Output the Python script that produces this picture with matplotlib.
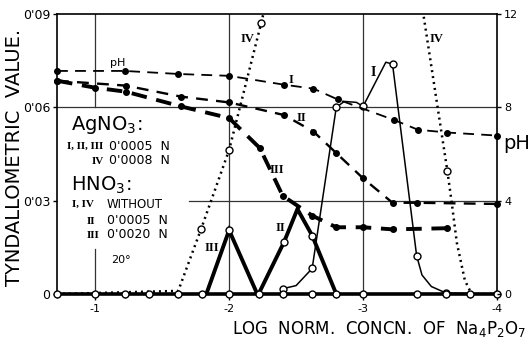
import matplotlib
matplotlib.use("Agg")
import matplotlib.pyplot as plt

plt.rcParams['mathtext.default'] = 'regular'
plt.rcParams['font.family'] = ['DejaVu Sans']

# ---------------- data ----------------
# baseline measurement points (log normal concentration), tyndallometric value 0
base_x = [-0.715, -1.0, -1.22, -1.4, -1.62, -1.8, -2.0, -2.22, -2.4, -2.62,
          -2.8, -3.0, -3.4, -3.62, -3.8, -4.0]
base_y = [0.0] * len(base_x)

# Tyndallometric curves
tyn_I_x = [-2.4, -2.5, -2.62, -2.8, -2.86, -2.95, -3.0, -3.17, -3.22, -3.4,
           -3.44, -3.51, -3.62, -4.0]
tyn_I_y = [0.0017, 0.0027, 0.0082, 0.060, 0.0619, 0.0616, 0.0603, 0.0745,
           0.0739, 0.0123, 0.0061, 0.0024, 0.0003, 0.0]
tyn_I_marks = [0, 2, 3, 6, 8, 9, 12, 13]

tyn_II_x = [-2.22, -2.41, -2.51, -2.62, -2.8]
tyn_II_y = [0.0, 0.0167, 0.0273, 0.0188, 0.0]
tyn_II_marks = [1, 3]

tyn_III_x = [-1.83, -2.0, -2.21]
tyn_III_y = [0.0, 0.0205, 0.0]
tyn_III_marks = [1]

tyn_IV_x = [-0.715, -1.62, -1.79, -2.0, -2.24, -2.3, -3.42, -3.45, -3.63,
            -3.66, -3.70, -3.76, -3.81, -4.0]
tyn_IV_y = [0.0, 0.001, 0.0208, 0.0463, 0.0872, 0.098, 0.098, 0.090, 0.0394,
            0.030, 0.0165, 0.0044, 0.0, 0.0]
tyn_IV_marks = [2, 3, 4, 8]

# pH curves
pH_I_x = [-0.715, -1.22, -1.62, -2.0, -2.41, -2.63, -2.81, -3.23, -3.41, -3.63, -4.0]
pH_I = [9.56, 9.56, 9.43, 9.35, 8.97, 8.80, 8.34, 7.46, 7.04, 6.92, 6.79]

pH_II_x = [-0.715, -1.23, -1.64, -2.0, -2.41, -2.63, -2.8, -3.0, -3.22, -3.4, -4.0]
pH_II = [9.14, 8.93, 8.46, 8.21, 7.67, 6.96, 6.04, 4.96, 3.91, 3.91, 3.86]

pH_III_x = [-0.715, -1.0, -1.23, -1.64, -2.0, -2.23, -2.4, -2.62, -2.8, -3.0, -3.22, -3.63]
pH_III = [9.14, 8.84, 8.67, 8.04, 7.54, 6.25, 4.21, 3.36, 2.86, 2.86, 2.77, 2.82]

x_major = [-1, -2, -3, -4]
x_major_labels = ["-1", "-2", "-3", "-4"]
y_ticks = [0, 0.03, 0.06, 0.09]
y_tick_labels = ["0", "0'03", "0'06", "0'09"]
pH_ticks = [0, 4, 8, 12]
pH_tick_labels = ["0", "4", "8", "12"]

# ---------------- figure ----------------
W, H = 530, 338
fig = plt.figure(figsize=(W / 100, H / 100), dpi=100)
L, R, T, B = 57, 497, 14, 294
ax = fig.add_axes([L / W, 1 - B / H, (R - L) / W, (B - T) / H])
ax.set_xlim(-0.715, -4.0)
ax.set_ylim(0, 0.09)

for s in ax.spines.values():
    s.set_linewidth(1.2)

# grid lines (partial like original)
gkw = dict(color='#333333', lw=0.9, zorder=1)
ax.axvline(-1, ymin=0.667, ymax=1, **gkw)
ax.axvline(-1, ymin=0, ymax=0.16, **gkw)
ax.axvline(-2, **gkw)
ax.axvline(-3, **gkw)
ax.axhline(0.06, **gkw)
ax.axhline(0.03, xmin=0.30, xmax=1, **gkw)

ax.set_xticks(x_major)
ax.set_xticklabels(x_major_labels, fontsize=8)
ax.set_xticks(base_x, minor=True)
ax.tick_params(axis='x', which='major', direction='out', length=4, width=1, pad=3)
ax.tick_params(axis='x', which='minor', direction='out', length=3, width=0.8)
ax.set_yticks(y_ticks)
ax.set_yticklabels(y_tick_labels, fontsize=9)
ax.tick_params(axis='y', direction='out', length=3, width=1, pad=2)

ocirc = dict(marker='o', markersize=5, markerfacecolor='white',
             markeredgecolor='black', markeredgewidth=1.0)

# tyndallometric curves
ax.plot(tyn_IV_x, tyn_IV_y, color='black', lw=1.8, linestyle=(0, (0.8, 1.6)),
        markevery=tyn_IV_marks, zorder=3, **ocirc)
ax.plot(tyn_I_x, tyn_I_y, color='black', lw=1.1, markevery=tyn_I_marks,
        zorder=4, **ocirc)
ax.plot(tyn_II_x, tyn_II_y, color='black', lw=2.8, markevery=tyn_II_marks,
        zorder=4, solid_joinstyle='miter', **ocirc)
ax.plot(tyn_III_x, tyn_III_y, color='black', lw=2.8, markevery=tyn_III_marks,
        zorder=4, solid_joinstyle='miter', **ocirc)
ax.plot(base_x, base_y, color='black', lw=2.6, zorder=5, clip_on=False, **ocirc)

# pH axis
ax2 = ax.twinx()
ax2.set_ylim(0, 12)
ax2.set_yticks(pH_ticks)
ax2.set_yticklabels(pH_tick_labels, fontsize=8)
ax2.tick_params(axis='y', direction='out', length=3, width=1, pad=2)
for s in ax2.spines.values():
    s.set_visible(False)

fdot = dict(marker='o', markersize=4, markerfacecolor='black',
            markeredgecolor='black')
ax2.plot(pH_I_x, pH_I, color='black', lw=1.3, linestyle=(0, (6, 4)),
         clip_on=False, **fdot)
ax2.plot(pH_II_x, pH_II, color='black', lw=1.7, linestyle=(0, (5, 3.5)),
         clip_on=False, **fdot)
ax2.plot(pH_III_x, pH_III, color='black', lw=2.8, linestyle=(0, (4, 2.5)),
         clip_on=False, **fdot)


def ftext(px, py, s, **kw):
    fig.text(px / W, 1 - py / H, s, **kw)


serif = dict(family='Liberation Serif', fontweight='bold')
# curve labels
ftext(118, 63, "pH", fontsize=8, ha='center', va='center')
ftext(291, 80, "I", fontsize=9, ha='center', va='center', **serif)
ftext(301, 118, "II", fontsize=9, ha='center', va='center', **serif)
ftext(277, 170, "III", fontsize=9, ha='center', va='center', **serif)
ftext(373, 72, "I", fontsize=10, ha='center', va='center', **serif)
ftext(280, 228, "II", fontsize=9, ha='center', va='center', **serif)
ftext(212, 248, "III", fontsize=9, ha='center', va='center', **serif)
ftext(247, 39, "IV", fontsize=9, ha='center', va='center', **serif)
ftext(436, 39, "IV", fontsize=9, ha='center', va='center', **serif)

# legend block
ftext(71, 125, "AgNO$_3$:", fontsize=14, ha='left', va='center')
ftext(67, 146, "I, II, III", fontsize=8, ha='left', va='center', **serif)
ftext(109, 146, "0'0005  N", fontsize=9, ha='left', va='center')
ftext(92, 161, "IV", fontsize=8, ha='left', va='center', **serif)
ftext(109, 161, "0'0008  N", fontsize=9, ha='left', va='center')
ftext(71, 185, "HNO$_3$:", fontsize=14, ha='left', va='center')
ftext(72, 204, "I, IV", fontsize=8, ha='left', va='center', **serif)
ftext(107, 204, "WITHOUT", fontsize=8.5, ha='left', va='center')
ftext(87, 221, "II", fontsize=8, ha='left', va='center', **serif)
ftext(107, 221, "0'0005  N", fontsize=9, ha='left', va='center')
ftext(87, 235, "III", fontsize=8, ha='left', va='center', **serif)
ftext(107, 235, "0'0020  N", fontsize=9, ha='left', va='center')
ftext(121, 260, "20°", fontsize=8, ha='center', va='center')

# axis titles
ftext(15, 157, "TYNDALLOMETRIC  VALUE.", fontsize=14, rotation=90,
      ha='center', va='center')
ftext(526, 329, "LOG  NORM.  CONCN.  OF  Na$_4$P$_2$O$_7$", fontsize=12,
      ha='right', va='center')
ftext(503, 143, "pH", fontsize=14, ha='left', va='center')

fig.savefig("out.png", dpi=100, facecolor='white')
